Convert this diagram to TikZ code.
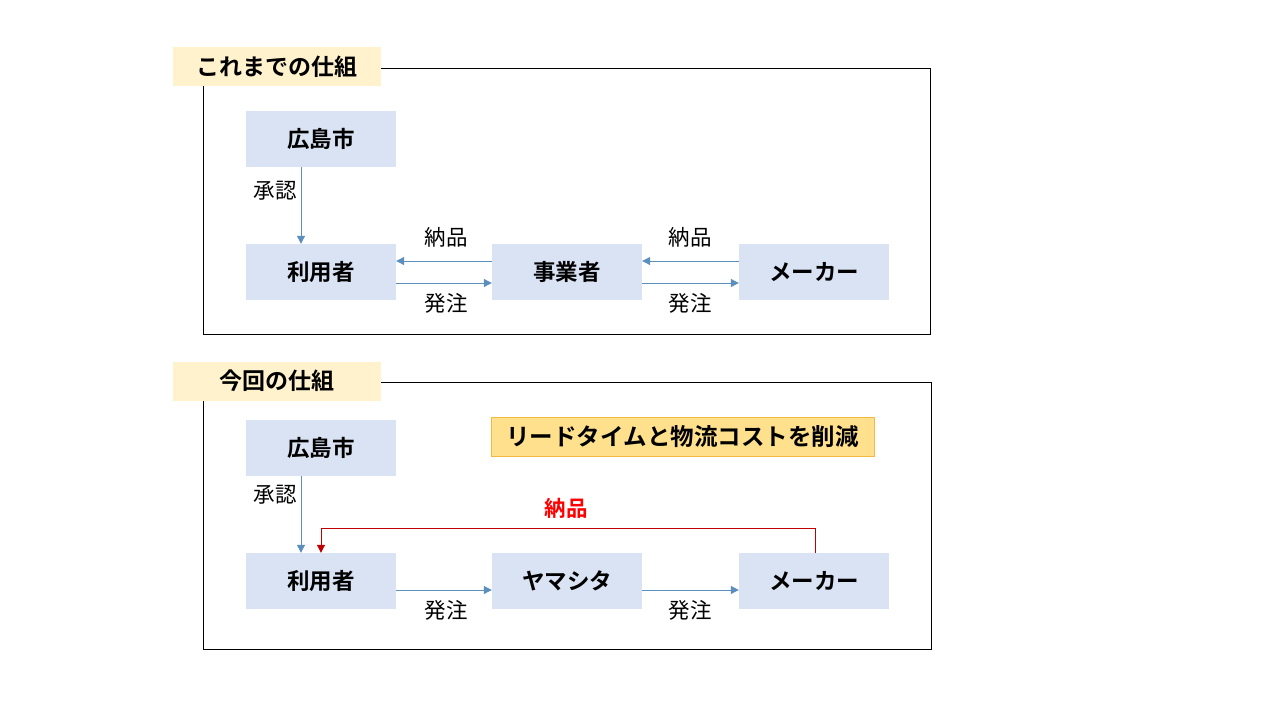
\documentclass[tikz,border=0pt]{standalone}
\usepackage{fontspec}
\setmainfont{Noto Sans CJK JP}
\newfontfamily\jpbold{Noto Sans CJK JP Bold}
\usetikzlibrary{arrows.meta}
\definecolor{boxfill}{HTML}{DAE3F3}
\definecolor{titlefill}{HTML}{FFF2CC}
\definecolor{arrowblue}{HTML}{5B8FBD}
\definecolor{orangefill}{HTML}{FFE08C}
\definecolor{orangeline}{HTML}{F4B942}
\definecolor{redline}{HTML}{C00000}
\tikzset{
  ent/.style={fill=boxfill, draw=none, minimum width=150pt, minimum height=56pt, inner sep=0pt, font=\jpbold\fontsize{22.5}{24}\selectfont},
  ttl/.style={fill=titlefill, draw=none, minimum width=208pt, minimum height=39pt, inner sep=0pt, font=\jpbold\fontsize{23}{24}\selectfont},
  frame/.style={draw=black, line width=0.9pt},
  lbl/.style={font=\fontsize{21.5}{24}\selectfont, inner sep=0pt},
  flow/.style={draw=arrowblue, line width=1pt, -{Triangle[length=8pt,width=8pt]}},
  redflow/.style={draw=redline, line width=1pt, -{Triangle[length=8pt,width=8pt]}},
}
\begin{document}
\begin{tikzpicture}[x=1pt,y=-1pt]
\useasboundingbox[fill=white] (0,0) rectangle (1280,720);
% ---------- top panel ----------
\draw[frame] (203,68) rectangle (930,334);
\node[ttl] (t1) at (277,66.5) {これまでの仕組};
\node[ent] (h1) at (321,139) {広島市};
\node[ent] (u1) at (321,272) {利用者};
\node[ent] (j1) at (567,272) {事業者};
\node[ent] (m1) at (814,272) {メーカー};
\draw[flow] (h1.south -| 301,0) -- (u1.north -| 301,0);
\node[lbl] (a1) at (275,191) {承認};
\draw[flow] (j1.west |- 0,261) -- (u1.east |- 0,261);
\draw[flow] (u1.east |- 0,283) -- (j1.west |- 0,283);
\draw[flow] (m1.west |- 0,261) -- (j1.east |- 0,261);
\draw[flow] (j1.east |- 0,283) -- (m1.west |- 0,283);
\node[lbl] (n1) at (446,237) {納品};
\node[lbl] (o1) at (446,303) {発注};
\node[lbl] (n2) at (690,237) {納品};
\node[lbl] (o2) at (690,303) {発注};
% ---------- bottom panel ----------
\draw[frame] (203,382) rectangle (931,649);
\node[ttl] (t2) at (277,381) {今回の仕組};
\node[ent] (h2) at (321,448) {広島市};
\node[ent] (u2) at (321,581) {利用者};
\node[ent] (y2) at (567,581) {ヤマシタ};
\node[ent] (m2) at (814,581) {メーカー};
\node[fill=orangefill, draw=orangeline, line width=0.8pt, minimum width=383pt, minimum height=39pt, inner sep=0pt, font=\jpbold\fontsize{23.5}{24}\selectfont] (cut) at (682.5,436.5) {リードタイムと物流コストを削減};
\draw[flow] (h2.south -| 301,0) -- (u2.north -| 301,0);
\node[lbl] (a2) at (275,495) {承認};
\coordinate (r1) at (815,528);
\coordinate (r2) at (321,528);
\draw[redflow] (m2.north -| r1) -- (r1) -- (r2) -- (r2 |- u2.north);
\node[lbl, text=red, font=\jpbold\fontsize{21.5}{24}\selectfont] (n3) at (566,508) {納品};
\draw[flow] (u2.east |- 0,590) -- (y2.west |- 0,590);
\draw[flow] (y2.east |- 0,590) -- (m2.west |- 0,590);
\node[lbl] (o3) at (446,610) {発注};
\node[lbl] (o4) at (690,610) {発注};
\end{tikzpicture}
\end{document}
